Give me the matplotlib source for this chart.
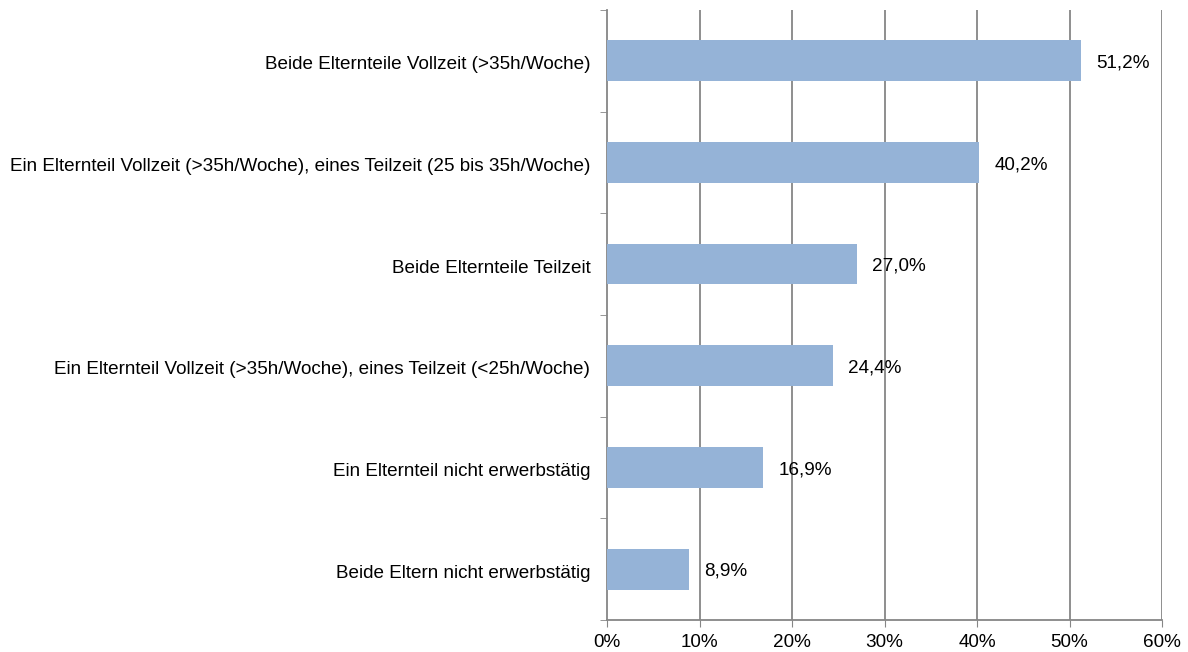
import matplotlib
matplotlib.use("Agg")
import matplotlib.pyplot as plt
import matplotlib.transforms as mtransforms
import numpy as np

categories = [
    "Beide Elternteile Vollzeit (>35h/Woche)",
    "Ein Elternteil Vollzeit (>35h/Woche), eines Teilzeit (25 bis 35h/Woche)",
    "Beide Elternteile Teilzeit",
    "Ein Elternteil Vollzeit (>35h/Woche), eines Teilzeit (<25h/Woche)",
    "Ein Elternteil nicht erwerbstätig",
    "Beide Eltern nicht erwerbstätig",
]
values = [51.2, 40.2, 27.0, 24.4, 16.9, 8.9]
x_ticks = [0, 10, 20, 30, 40, 50, 60]
x_labels = ["0%", "10%", "20%", "30%", "40%", "50%", "60%"]

plt.rcParams['font.family'] = ['Liberation Sans', 'DejaVu Sans']
fig = plt.figure(figsize=(11.88, 6.52), dpi=100)
ax = fig.add_axes([607/1188, 1 - 620/652, (1162-607)/1188, (620-10)/652])

fs = 13.6
n = len(categories)
ypos = np.arange(n)[::-1]
bar_color = "#95B3D7"
grid_color = "#868686"

ax.barh(ypos, values, height=0.4, color=bar_color, zorder=3)
ax.set_xlim(0, 60)
ax.set_ylim(-0.5, n - 0.5)
ax.set_xticks(x_ticks)
ax.set_xticklabels(x_labels, fontsize=fs)
ax.set_yticks(ypos)
ax.set_yticklabels(categories, fontsize=fs)
ax.tick_params(axis='y', which='major', length=0, pad=12)
ax.set_yticks(np.arange(n + 1) - 0.5, minor=True)
ax.tick_params(axis='y', which='minor', length=5, color=grid_color, direction='out')
ax.tick_params(axis='x', which='major', length=5, color=grid_color, direction='out', pad=5)

shift = mtransforms.ScaledTranslation(0, -2/100, fig.dpi_scale_trans)
for lbl in ax.get_yticklabels():
    lbl.set_transform(lbl.get_transform() + shift)

for x in x_ticks[1:]:
    ax.axvline(x, color=grid_color, linewidth=1.3, zorder=1)

for s in ['top', 'right']:
    ax.spines[s].set_visible(False)
ax.spines['left'].set_color(grid_color)
ax.spines['bottom'].set_color(grid_color)
ax.spines['left'].set_linewidth(1.3)
ax.spines['bottom'].set_linewidth(1.3)

for y, v in zip(ypos, values):
    ax.annotate(f"{v:.1f}%".replace(".", ","), xy=(v, y), xytext=(11, -1.5),
                textcoords='offset points', va='center', ha='left', fontsize=fs, zorder=4)

fig.savefig("out.png", dpi=100)
